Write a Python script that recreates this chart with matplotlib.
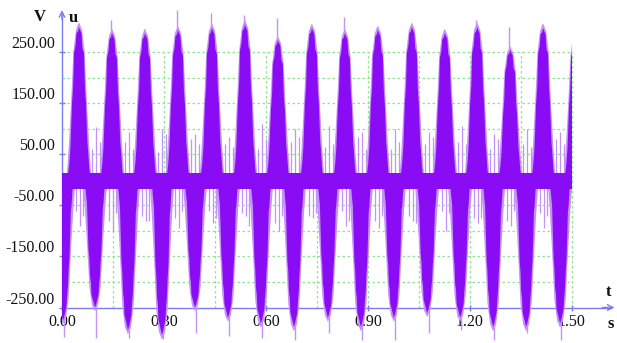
import numpy as np
import matplotlib
matplotlib.use('Agg')
import matplotlib.pyplot as plt
from matplotlib.patches import Rectangle

# ---------------- data ----------------
# positive lobes: peak time (s), dense-core peak (V), light spike peak (V)
pos_t = [0.050, 0.147, 0.244, 0.341, 0.441, 0.538, 0.635, 0.735, 0.832, 0.929,
         1.029, 1.126, 1.221, 1.318, 1.415, 1.512]
pos_v = [300, 288, 288, 294, 298, 305, 274, 298, 288, 294, 300, 288, 300, 255, 298, 290]
pos_lt = [306, 314, 296, 333, 327, 323, 318, 304, 320, 300, 306, 294, 314, 300, 306, 300]
# negative lobes: trough time (s), dense-core trough (V), light spike trough (V)
neg_t = [0.003, 0.097, 0.194, 0.294, 0.391, 0.488, 0.585, 0.682, 0.782, 0.879,
         0.976, 1.074, 1.171, 1.268, 1.365, 1.465]
neg_v = [-275, -250, -294, -304, -250, -270, -281, -288, -270, -288, -270, -261, -270, -288, -288, -281]
neg_lt = [-307, -310, -310, -312, -300, -305, -310, -313, -300, -314, -314, -300, -294, -314, -300, -314]

# outline of one lobe (time offset s, fraction of peak)
pos_dt = [-0.0324, -0.0280, -0.0250, -0.0206, -0.0170, -0.0147, -0.0100, -0.0074, -0.0030, 0.0,
          0.0030, 0.0074, 0.0100, 0.0147, 0.0175, 0.0206, 0.0245, 0.0265, 0.0300, 0.0324]
pos_fr = [0.03, 0.12, 0.22, 0.50, 0.62, 0.83, 0.88, 0.96, 0.97, 1.0,
          0.98, 0.96, 0.86, 0.83, 0.60, 0.50, 0.25, 0.20, 0.08, 0.03]
neg_dt = [-0.0294, -0.0260, -0.0235, -0.0191, -0.0165, -0.0147, -0.0120, -0.0103, -0.0040, 0.0,
          0.0040, 0.0103, 0.0120, 0.0147, 0.0165, 0.0191, 0.0230, 0.0250, 0.0275, 0.0294]
neg_fr = [0.03, 0.12, 0.18, 0.55, 0.62, 0.75, 0.80, 0.90, 0.96, 1.0,
          0.97, 0.90, 0.82, 0.75, 0.64, 0.55, 0.22, 0.18, 0.08, 0.03]
# light fringe around a lobe (time offset s, fraction of core peak)
halo_dt = [-0.0360, -0.0300, -0.0230, -0.0165, -0.0090, 0.0, 0.0090, 0.0165, 0.0230, 0.0300, 0.0360]
halo_fr = [0.03, 0.22, 0.52, 0.84, 0.98, 1.03, 0.98, 0.84, 0.52, 0.22, 0.03]

# band around zero (V)
band_lo, band_hi = -18, 14

# isolated light spikes
spike_up_t = [0.088, 0.100, 0.112, 0.185, 0.197, 0.209, 0.282, 0.294, 0.306, 0.379, 0.391, 0.403,
              0.479, 0.491, 0.503, 0.576, 0.588, 0.600, 0.674, 0.685, 0.697, 0.774, 0.785, 0.797,
              0.871, 0.882, 0.894, 0.968, 0.979, 0.991, 1.068, 1.079, 1.091, 1.165, 1.176, 1.188,
              1.259, 1.271, 1.282, 1.356, 1.368, 1.379, 1.453, 1.465, 1.476]
spike_up_v = [60, 104, 75, 75, 95, 60, 55, 100, 90, 80, 90, 70, 70, 85, 65, 60, 110, 80,
              75, 100, 85, 65, 105, 70, 85, 95, 60, 60, 100, 75, 70, 95, 85, 75, 105, 70,
              60, 90, 80, 70, 100, 65, 80, 95, 70]
spike_dn_t = [0.041, 0.053, 0.062, 0.138, 0.150, 0.159, 0.235, 0.247, 0.256, 0.332, 0.344, 0.353,
              0.432, 0.444, 0.453, 0.529, 0.541, 0.550, 0.626, 0.638, 0.647, 0.726, 0.738, 0.747,
              0.824, 0.835, 0.844, 0.921, 0.932, 0.941, 1.021, 1.032, 1.041, 1.118, 1.129, 1.138,
              1.212, 1.224, 1.232, 1.309, 1.321, 1.329, 1.406, 1.418, 1.426]
spike_dn_v = [-60, -90, -70, -80, -100, -65, -70, -80, -80, -75, -95, -60, -60, -85, -75,
              -65, -70, -90, -85, -100, -70, -70, -75, -65, -60, -90, -80, -80, -95, -70,
              -70, -80, -85, -60, -100, -65, -75, -85, -75, -80, -90, -60, -65, -95, -70]

x_ticks = [0.0, 0.3, 0.6, 0.9, 1.2, 1.5]
x_labels = ['0.00', '0.30', '0.60', '0.90', '1.20', '1.50']
y_ticks = [250, 150, 50, -50, -150, -250]
y_labels = ['250.00', '150.00', '50.00', '-50.00', '-150.00', '-250.00']
grid_x = [0.15, 0.30, 0.45, 0.60, 0.75, 0.90, 1.05, 1.20, 1.35, 1.50]
grid_y = [-200, -150, -100, -50, 50, 100, 150, 200, 250]

# ---------------- styling ----------------
core_c = '#8a0cf5'
light_c = '#c493f7'
axis_c = '#7b7bef'
grid_c = '#8fe68f'
text_c = '#111111'

plt.rcParams['font.family'] = ['Liberation Serif', 'DejaVu Serif']

fig = plt.figure(figsize=(6.17, 3.43), dpi=100)
ax = fig.add_axes([0, 0, 1, 1])
ax.set_xlim(-0.1824, 1.6324)
ax.set_ylim(-319.6, 352.9)
ax.patch.set_alpha(0)

# grid box and zero line
ax.hlines(grid_y, 0, 1.5, colors=grid_c, linestyles=(0, (2, 2)), lw=0.9, zorder=1)
ax.vlines(grid_x, -250, 250, colors=grid_c, linestyles=(0, (2, 2)), lw=0.9, zorder=1)
ax.hlines(0, 0, 1.5, colors=axis_c, lw=1.0, zorder=1.2)

clip = Rectangle((0, -400), 1.5, 800, transform=ax.transData)
arts = []

# light fringes and spikes
for t, v in zip(pos_t, pos_v):
    arts += ax.fill([t + d for d in halo_dt], [v * f for f in halo_fr], color=light_c, lw=0, zorder=2)
for t, v in zip(neg_t, neg_v):
    arts += ax.fill([t + d for d in halo_dt], [v * f for f in halo_fr], color=light_c, lw=0, zorder=2)
arts.append(ax.vlines([t - 0.003 for t in pos_t], [0.6 * v for v in pos_v], pos_lt,
                      colors=light_c, lw=1.0, zorder=2))
arts.append(ax.vlines([t + 0.004 for t in neg_t], neg_lt, [0.6 * v for v in neg_v],
                      colors=light_c, lw=1.0, zorder=2))
arts.append(ax.vlines(spike_up_t, 0, spike_up_v, colors=light_c, lw=0.9, zorder=2))
arts.append(ax.vlines(spike_dn_t, spike_dn_v, 0, colors=light_c, lw=0.9, zorder=2))

# dense cores
arts.append(ax.fill_between([0, 1.5], band_lo, band_hi, color=core_c, lw=0, zorder=3))
for t, v in zip(pos_t, pos_v):
    arts += ax.fill([t + d for d in pos_dt], [v * f for f in pos_fr], color=core_c, lw=0, zorder=3)
for t, v in zip(neg_t, neg_v):
    arts += ax.fill([t + d for d in neg_dt], [v * f for f in neg_fr], color=core_c, lw=0, zorder=3)
for a in arts:
    a.set_clip_path(clip)

# axes
for s in ['top', 'right']:
    ax.spines[s].set_visible(False)
ax.spines['left'].set_position(('data', 0))
ax.spines['bottom'].set_position(('data', -250))
ax.spines['left'].set_bounds(-250, 325)
ax.spines['bottom'].set_bounds(0, 1.615)
for s in ['left', 'bottom']:
    ax.spines[s].set_color(axis_c)
    ax.spines[s].set_linewidth(1.0)
    ax.spines[s].set_zorder(1.8)
ax.annotate('', xy=(0, 333), xytext=(0, 315),
            arrowprops=dict(arrowstyle='->', color=axis_c, lw=1.0, shrinkA=0, shrinkB=0), zorder=1.8)
ax.annotate('', xy=(1.625, -250), xytext=(1.59, -250),
            arrowprops=dict(arrowstyle='->', color=axis_c, lw=1.0, shrinkA=0, shrinkB=0), zorder=1.8)

ax.set_xticks(x_ticks)
ax.set_xticklabels(x_labels)
ax.set_yticks(y_ticks)
ax.set_yticklabels(y_labels)
ax.tick_params(axis='both', direction='inout', length=4, width=1, colors=axis_c,
               labelcolor=text_c, labelsize=11.5)
ax.tick_params(axis='x', pad=3)
ax.tick_params(axis='y', pad=3)
for lbl in ax.get_yticklabels():
    lbl.set_verticalalignment('bottom')

ax.text(-0.0647, 319.6, 'V', fontsize=12, fontweight='bold', color=text_c, ha='center', va='center')
ax.text(0.0324, 317.0, 'u', fontsize=12, fontweight='bold', color=text_c, ha='center', va='center')
ax.text(1.606, -219.6, 't', fontsize=12, fontweight='bold', color=text_c, ha='center', va='center')
ax.text(1.615, -282.0, 's', fontsize=12, fontweight='bold', color=text_c, ha='center', va='center')

fig.savefig('out.png', dpi=100)
